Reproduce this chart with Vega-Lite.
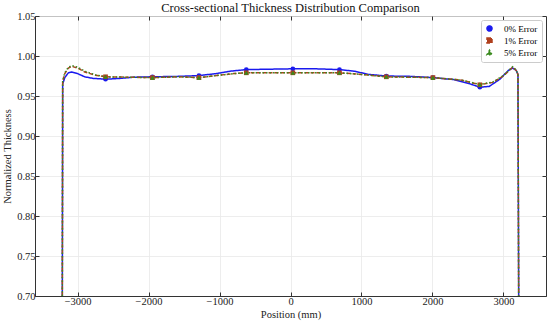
{
  "$schema": "https://vega.github.io/schema/vega-lite/v6.json",
  "width": 511,
  "height": 280,
  "autosize": {"type": "none"},
  "padding": {"left": 35, "top": 16, "right": 4, "bottom": 29},
  "background": "white",
  "title": {"text": "Cross-sectional Thickness Distribution Comparison", "font": "Liberation Serif", "fontSize": 12.5, "fontWeight": "normal", "color": "#111", "offset": 0, "dy": 3},
  "datasets": {
    "curve": [
      {"pos": -3215, "thickness": 0.70, "series": "0% Error"},
      {"pos": -3210, "thickness": 0.965, "series": "0% Error"},
      {"pos": -3180, "thickness": 0.973, "series": "0% Error"},
      {"pos": -3130, "thickness": 0.979, "series": "0% Error"},
      {"pos": -3080, "thickness": 0.980, "series": "0% Error"},
      {"pos": -3000, "thickness": 0.978, "series": "0% Error"},
      {"pos": -2900, "thickness": 0.974, "series": "0% Error"},
      {"pos": -2780, "thickness": 0.972, "series": "0% Error"},
      {"pos": -2606, "thickness": 0.971, "series": "0% Error"},
      {"pos": -2400, "thickness": 0.972, "series": "0% Error"},
      {"pos": -2200, "thickness": 0.9735, "series": "0% Error"},
      {"pos": -1945, "thickness": 0.974, "series": "0% Error"},
      {"pos": -1600, "thickness": 0.9745, "series": "0% Error"},
      {"pos": -1290, "thickness": 0.9755, "series": "0% Error"},
      {"pos": -1050, "thickness": 0.978, "series": "0% Error"},
      {"pos": -850, "thickness": 0.981, "series": "0% Error"},
      {"pos": -623, "thickness": 0.983, "series": "0% Error"},
      {"pos": -300, "thickness": 0.9835, "series": "0% Error"},
      {"pos": 33, "thickness": 0.984, "series": "0% Error"},
      {"pos": 350, "thickness": 0.984, "series": "0% Error"},
      {"pos": 690, "thickness": 0.983, "series": "0% Error"},
      {"pos": 900, "thickness": 0.981, "series": "0% Error"},
      {"pos": 1100, "thickness": 0.977, "series": "0% Error"},
      {"pos": 1350, "thickness": 0.975, "series": "0% Error"},
      {"pos": 1700, "thickness": 0.9745, "series": "0% Error"},
      {"pos": 2007, "thickness": 0.973, "series": "0% Error"},
      {"pos": 2300, "thickness": 0.9705, "series": "0% Error"},
      {"pos": 2500, "thickness": 0.966, "series": "0% Error"},
      {"pos": 2668, "thickness": 0.961, "series": "0% Error"},
      {"pos": 2800, "thickness": 0.962, "series": "0% Error"},
      {"pos": 2950, "thickness": 0.971, "series": "0% Error"},
      {"pos": 3070, "thickness": 0.982, "series": "0% Error"},
      {"pos": 3130, "thickness": 0.985, "series": "0% Error"},
      {"pos": 3180, "thickness": 0.982, "series": "0% Error"},
      {"pos": 3205, "thickness": 0.977, "series": "0% Error"},
      {"pos": 3215, "thickness": 0.70, "series": "0% Error"},

      {"pos": -3215, "thickness": 0.70, "series": "1% Error"},
      {"pos": -3210, "thickness": 0.968, "series": "1% Error"},
      {"pos": -3180, "thickness": 0.978, "series": "1% Error"},
      {"pos": -3130, "thickness": 0.985, "series": "1% Error"},
      {"pos": -3080, "thickness": 0.987, "series": "1% Error"},
      {"pos": -3000, "thickness": 0.985, "series": "1% Error"},
      {"pos": -2900, "thickness": 0.980, "series": "1% Error"},
      {"pos": -2750, "thickness": 0.976, "series": "1% Error"},
      {"pos": -2606, "thickness": 0.974, "series": "1% Error"},
      {"pos": -2300, "thickness": 0.9735, "series": "1% Error"},
      {"pos": -1945, "thickness": 0.973, "series": "1% Error"},
      {"pos": -1600, "thickness": 0.974, "series": "1% Error"},
      {"pos": -1290, "thickness": 0.973, "series": "1% Error"},
      {"pos": -1000, "thickness": 0.976, "series": "1% Error"},
      {"pos": -800, "thickness": 0.978, "series": "1% Error"},
      {"pos": -623, "thickness": 0.979, "series": "1% Error"},
      {"pos": 33, "thickness": 0.979, "series": "1% Error"},
      {"pos": 690, "thickness": 0.979, "series": "1% Error"},
      {"pos": 1000, "thickness": 0.977, "series": "1% Error"},
      {"pos": 1350, "thickness": 0.974, "series": "1% Error"},
      {"pos": 2007, "thickness": 0.973, "series": "1% Error"},
      {"pos": 2400, "thickness": 0.970, "series": "1% Error"},
      {"pos": 2668, "thickness": 0.964, "series": "1% Error"},
      {"pos": 2850, "thickness": 0.967, "series": "1% Error"},
      {"pos": 3000, "thickness": 0.975, "series": "1% Error"},
      {"pos": 3130, "thickness": 0.986, "series": "1% Error"},
      {"pos": 3180, "thickness": 0.982, "series": "1% Error"},
      {"pos": 3205, "thickness": 0.977, "series": "1% Error"},
      {"pos": 3215, "thickness": 0.70, "series": "1% Error"},

      {"pos": -3215, "thickness": 0.70, "series": "5% Error"},
      {"pos": -3210, "thickness": 0.969, "series": "5% Error"},
      {"pos": -3180, "thickness": 0.979, "series": "5% Error"},
      {"pos": -3130, "thickness": 0.986, "series": "5% Error"},
      {"pos": -3080, "thickness": 0.988, "series": "5% Error"},
      {"pos": -3000, "thickness": 0.986, "series": "5% Error"},
      {"pos": -2900, "thickness": 0.981, "series": "5% Error"},
      {"pos": -2750, "thickness": 0.9765, "series": "5% Error"},
      {"pos": -2606, "thickness": 0.974, "series": "5% Error"},
      {"pos": -2300, "thickness": 0.9735, "series": "5% Error"},
      {"pos": -1945, "thickness": 0.973, "series": "5% Error"},
      {"pos": -1600, "thickness": 0.974, "series": "5% Error"},
      {"pos": -1290, "thickness": 0.973, "series": "5% Error"},
      {"pos": -1000, "thickness": 0.976, "series": "5% Error"},
      {"pos": -800, "thickness": 0.978, "series": "5% Error"},
      {"pos": -623, "thickness": 0.979, "series": "5% Error"},
      {"pos": 33, "thickness": 0.979, "series": "5% Error"},
      {"pos": 690, "thickness": 0.979, "series": "5% Error"},
      {"pos": 1000, "thickness": 0.977, "series": "5% Error"},
      {"pos": 1350, "thickness": 0.974, "series": "5% Error"},
      {"pos": 2007, "thickness": 0.973, "series": "5% Error"},
      {"pos": 2400, "thickness": 0.970, "series": "5% Error"},
      {"pos": 2668, "thickness": 0.9645, "series": "5% Error"},
      {"pos": 2850, "thickness": 0.9675, "series": "5% Error"},
      {"pos": 3000, "thickness": 0.9755, "series": "5% Error"},
      {"pos": 3130, "thickness": 0.9865, "series": "5% Error"},
      {"pos": 3180, "thickness": 0.9825, "series": "5% Error"},
      {"pos": 3205, "thickness": 0.977, "series": "5% Error"},
      {"pos": 3215, "thickness": 0.70, "series": "5% Error"}
    ],
    "markers": [
      {"pos": -2606, "thickness": 0.971, "series": "0% Error"},
      {"pos": -1945, "thickness": 0.974, "series": "0% Error"},
      {"pos": -1290, "thickness": 0.9755, "series": "0% Error"},
      {"pos": -623, "thickness": 0.983, "series": "0% Error"},
      {"pos": 33, "thickness": 0.984, "series": "0% Error"},
      {"pos": 690, "thickness": 0.983, "series": "0% Error"},
      {"pos": 1350, "thickness": 0.975, "series": "0% Error"},
      {"pos": 2007, "thickness": 0.973, "series": "0% Error"},
      {"pos": 2668, "thickness": 0.961, "series": "0% Error"},
      {"pos": -2606, "thickness": 0.974, "series": "1% Error"},
      {"pos": -1945, "thickness": 0.973, "series": "1% Error"},
      {"pos": -1290, "thickness": 0.973, "series": "1% Error"},
      {"pos": -623, "thickness": 0.979, "series": "1% Error"},
      {"pos": 33, "thickness": 0.979, "series": "1% Error"},
      {"pos": 690, "thickness": 0.979, "series": "1% Error"},
      {"pos": 1350, "thickness": 0.974, "series": "1% Error"},
      {"pos": 2007, "thickness": 0.973, "series": "1% Error"},
      {"pos": 2668, "thickness": 0.964, "series": "1% Error"},
      {"pos": -2606, "thickness": 0.974, "series": "5% Error"},
      {"pos": -1945, "thickness": 0.973, "series": "5% Error"},
      {"pos": -1290, "thickness": 0.973, "series": "5% Error"},
      {"pos": -623, "thickness": 0.979, "series": "5% Error"},
      {"pos": 33, "thickness": 0.979, "series": "5% Error"},
      {"pos": 690, "thickness": 0.979, "series": "5% Error"},
      {"pos": 1350, "thickness": 0.974, "series": "5% Error"},
      {"pos": 2007, "thickness": 0.973, "series": "5% Error"},
      {"pos": 2668, "thickness": 0.9645, "series": "5% Error"}
    ]
  },
  "layer": [
    {
      "data": {"name": "curve"},
      "mark": {"type": "line", "strokeWidth": 1.5, "clip": true},
      "encoding": {
        "x": {"field": "pos", "type": "quantitative", "scale": {"domain": [-3600, 3600], "nice": false}, "axis": {"title": "Position (mm)", "format": "d", "values": [-3000, -2000, -1000, 0, 1000, 2000, 3000], "titlePadding": 3, "labelPadding": 4}},
        "y": {"field": "thickness", "type": "quantitative", "scale": {"domain": [0.70, 1.05], "nice": false, "zero": false}, "axis": {"title": "Normalized Thickness", "format": ".2f", "values": [0.70, 0.75, 0.80, 0.85, 0.90, 0.95, 1.00, 1.05], "titlePadding": 4, "labelPadding": 4}},
        "color": {"field": "series", "type": "nominal", "title": null, "scale": {"domain": ["0% Error", "1% Error", "5% Error"], "range": ["#1a1aee", "#b0401e", "#3a8a1e"]}},
        "strokeDash": {"field": "series", "type": "nominal", "title": null, "scale": {"domain": ["0% Error", "1% Error", "5% Error"], "range": [[1, 0], [4, 2], [1.5, 2]]}},
        "order": {"field": "pos", "type": "quantitative"}
      }
    },
    {
      "data": {"name": "markers"},
      "mark": {"type": "point", "filled": true, "size": 22, "opacity": 1},
      "encoding": {
        "x": {"field": "pos", "type": "quantitative", "axis": {"orient": "top", "labels": false, "title": null, "grid": false, "values": [-3000, -2000, -1000, 0, 1000, 2000, 3000], "domain": false}},
        "y": {"field": "thickness", "type": "quantitative", "axis": {"orient": "right", "labels": false, "title": null, "grid": false, "values": [0.70, 0.75, 0.80, 0.85, 0.90, 0.95, 1.00, 1.05], "domain": false}},
        "color": {"field": "series", "type": "nominal", "title": null},
        "shape": {"field": "series", "type": "nominal", "title": null, "scale": {"domain": ["0% Error", "1% Error", "5% Error"], "range": ["circle", "square", "triangle-up"]}}
      }
    }
  ],
  "resolve": {"axis": {"x": "independent", "y": "independent"}},
  "config": {
    "font": "Liberation Serif",
    "view": {"stroke": "#333333", "strokeWidth": 1},
    "axis": {"labelFont": "Liberation Serif", "titleFont": "Liberation Serif", "labelFontSize": 10.5, "titleFontSize": 10.5, "titleFontWeight": "normal", "labelColor": "#222", "titleColor": "#222", "domainColor": "#333", "tickColor": "#333", "tickSize": -4, "gridColor": "#e8e8e8", "gridWidth": 0.8},
    "legend": {"orient": "top-right", "offset": 4, "labelFont": "Liberation Serif", "labelFontSize": 9, "symbolSize": 25, "symbolStrokeWidth": 1.5, "fillColor": "white", "strokeColor": "#cccccc", "padding": 4, "rowPadding": 1, "labelOffset": 10, "cornerRadius": 2}
  }
}
